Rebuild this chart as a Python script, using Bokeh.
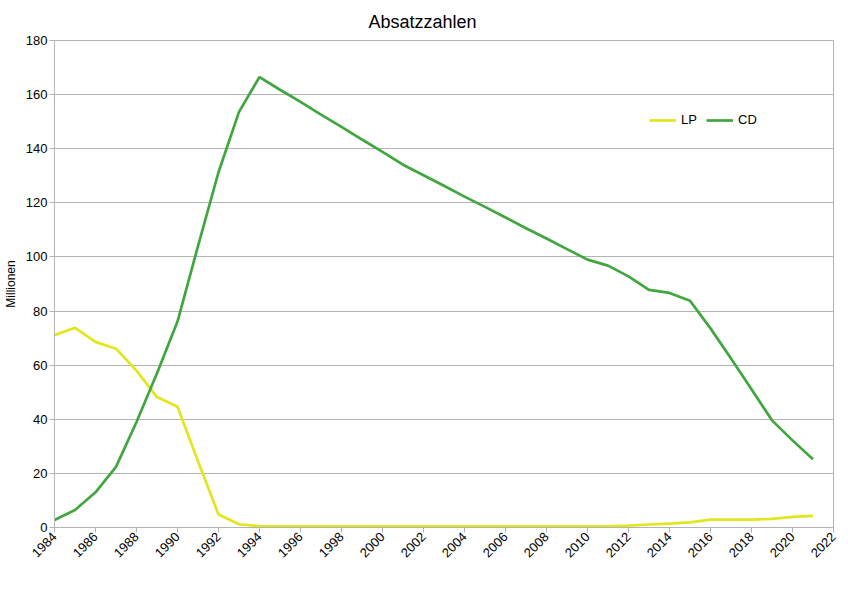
from bokeh.embed import file_html
from bokeh.models import FixedTicker, Legend, LegendItem
from bokeh.plotting import figure
from bokeh.resources import INLINE
from math import pi

years = [1984, 1985, 1986, 1987, 1988, 1989, 1990, 1991, 1992, 1993,
         1994, 1995, 1996, 1997, 1998, 1999, 2000, 2001, 2002, 2003,
         2004, 2005, 2006, 2007, 2008, 2009, 2010, 2011, 2012, 2013,
         2014, 2015, 2016, 2017, 2018, 2019, 2020, 2021]

lp = [71.1, 73.8, 68.6, 66.1, 58.0, 48.2, 44.6, 24.5, 4.8, 1.2,
      0.5, 0.4, 0.4, 0.4, 0.4, 0.4, 0.4, 0.4, 0.4, 0.4,
      0.4, 0.4, 0.4, 0.4, 0.4, 0.4, 0.4, 0.4, 0.7, 1.1,
      1.4, 1.9, 2.9, 2.9, 2.9, 3.2, 3.9, 4.3]

cd = [2.8, 6.5, 13.0, 22.4, 39.0, 57.0, 76.1, 104.0, 131.3, 153.6,
      166.5, 161.8, 157.3, 152.6, 148.1, 143.4, 138.8, 134.1, 130.2, 126.3,
      122.3, 118.5, 114.6, 110.6, 106.8, 102.9, 99.0, 96.8, 92.8, 87.8,
      86.7, 83.8, 73.6, 62.5, 51.1, 39.6, 32.2, 25.2]

x_ticks = [1984, 1986, 1988, 1990, 1992, 1994, 1996, 1998, 2000, 2002,
           2004, 2006, 2008, 2010, 2012, 2014, 2016, 2018, 2020, 2022]
y_ticks = [0, 20, 40, 60, 80, 100, 120, 140, 160, 180]

FONT = "Liberation Sans"
GRAY = "#b3b3b3"

p = figure(width=848, height=590, x_range=(1984, 2022), y_range=(0, 180),
           output_backend="svg", toolbar_location=None, title="Absatzzahlen",
           min_border_left=53, min_border_right=15, min_border_top=39,
           min_border_bottom=63)

# title centred on the whole picture rather than on the frame
p.title.text_font = FONT
p.title.text_font_size = "18px"
p.title.text_font_style = "normal"
p.title.text_color = "black"
p.title.align = "left"
p.title.offset = 314
p.title.standoff = 18

p.outline_line_color = GRAY
p.xgrid.visible = False
p.ygrid.grid_line_color = GRAY
p.ygrid.grid_line_width = 1

p.xaxis.ticker = FixedTicker(ticks=x_ticks)
p.yaxis.ticker = FixedTicker(ticks=y_ticks)
p.xaxis.major_label_orientation = pi / 4
p.yaxis.axis_label = "Millionen"

for ax in (p.xaxis, p.yaxis):
    ax.axis_line_color = GRAY
    ax.major_tick_line_color = GRAY
    ax.major_tick_out = 5
    ax.major_tick_in = 0
    ax.minor_tick_line_color = None
    ax.major_label_text_font = FONT
    ax.major_label_text_font_size = "13px"
    ax.major_label_text_color = "black"
    ax.major_label_standoff = 2

p.yaxis.axis_label_text_font = FONT
p.yaxis.axis_label_text_font_size = "12px"
p.yaxis.axis_label_text_font_style = "normal"
p.yaxis.axis_label_text_color = "black"
p.yaxis.axis_label_standoff = 5

r_lp = p.line(years, lp, line_color="#e2e61c", line_width=2.7)
r_cd = p.line(years, cd, line_color="#40a640", line_width=2.7)

legend = Legend(items=[LegendItem(label="LP", renderers=[r_lp]),
                       LegendItem(label="CD", renderers=[r_cd])],
                orientation="horizontal", location=(595, 400),
                padding=0, margin=0, spacing=5, label_standoff=5,
                glyph_width=27, glyph_height=14,
                border_line_color=None, background_fill_alpha=0,
                label_text_font=FONT, label_text_font_size="13px",
                label_text_color="black")
p.add_layout(legend)

open("out.html", "w").write(file_html(p, INLINE))
